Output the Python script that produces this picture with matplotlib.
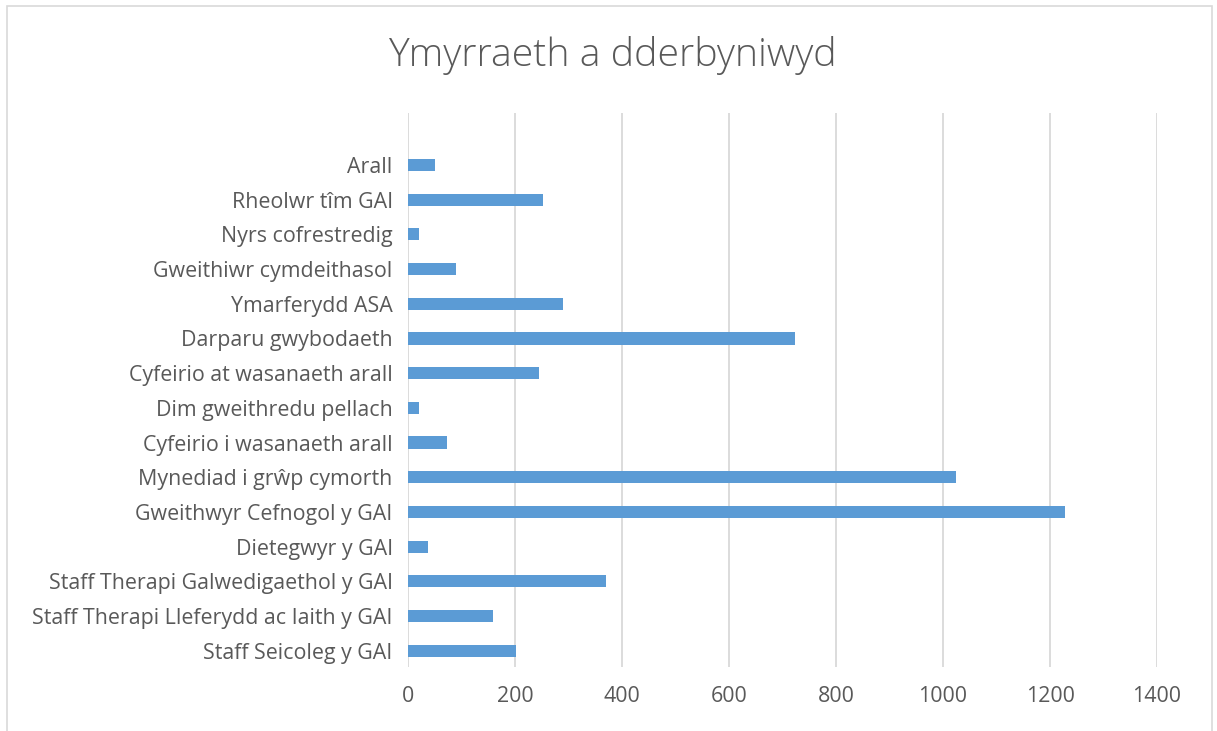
import matplotlib
matplotlib.use("Agg")
import matplotlib.pyplot as plt
from matplotlib.patches import Rectangle

categories = [
    "Staff Seicoleg y GAI",
    "Staff Therapi Lleferydd ac Iaith y GAI",
    "Staff Therapi Galwedigaethol y GAI",
    "Dietegwyr y GAI",
    "Gweithwyr Cefnogol y GAI",
    "Mynediad i grŵp cymorth",
    "Cyfeirio i wasanaeth arall",
    "Dim gweithredu pellach",
    "Cyfeirio at wasanaeth arall",
    "Darparu gwybodaeth",
    "Ymarferydd ASA",
    "Gweithiwr cymdeithasol",
    "Nyrs cofrestredig",
    "Rheolwr tîm GAI",
    "Arall",
]
values = [202, 158, 370, 37, 1228, 1025, 72, 21, 245, 723, 290, 90, 21, 253, 51]
xticks = [0, 200, 400, 600, 800, 1000, 1200, 1400]
title = "Ymyrraeth a dderbyniwyd"

plt.rcParams['font.family'] = ['Open Sans', 'DejaVu Sans']
W, H = 1217, 731
fig = plt.figure(figsize=(W / 100, H / 100), dpi=100)
fig.patch.set_facecolor("white")

# outer chart border
fig.patches.append(Rectangle((7 / W, -0.01), (1212 - 7) / W, 1 - 6 / H + 0.01,
                             transform=fig.transFigure, fill=False,
                             edgecolor="#d9d9d9", linewidth=1.2))

ax = fig.add_axes([408 / W, 1 - 667 / H, (1157 - 408) / W, (667 - 113) / H])
y = list(range(len(categories)))
ax.barh(y, values, height=0.35, color="#5b9bd5", zorder=3)
ax.set_xlim(0, 1400)
ax.set_ylim(-0.47, 15.5)
ax.set_xticks(xticks)
ax.set_xticklabels([str(t) for t in xticks])
ax.set_yticks(y)
ax.set_yticklabels(categories)
ax.grid(axis="x", color="#d9d9d9", linewidth=1.3, zorder=0)
ax.grid(axis="y", visible=False)
for s in ax.spines.values():
    s.set_visible(False)
ax.tick_params(axis="both", length=0, colors="#595959", labelsize=15.4)
ax.tick_params(axis="x", pad=14)
ax.tick_params(axis="y", pad=11)

fig.text(613 / W, 1 - 66 / H, title, ha="center", va="baseline",
         fontsize=28.3, color="#595959", fontweight="light")

fig.savefig("out.png", dpi=100)
